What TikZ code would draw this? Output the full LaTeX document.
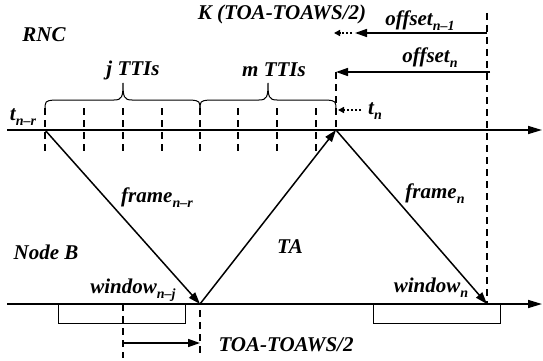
\documentclass[tikz,border=0pt]{standalone}
\usepackage{fontspec}
\setmainfont{Liberation Serif}
\usetikzlibrary{arrows.meta}
% subscript set smaller and lowered
\newcommand\sbs[1]{\raisebox{-5pt}{\fontsize{14}{14}\selectfont #1}}
% curly brace: left end, right end, tip
\newcommand\curly[3]{%
  \draw[brc] (#1,111) .. controls (#1,101) .. (#1+9,100) -- (#3-9,100)
    .. controls (#3-1,100) and (#3,97) .. (#3,83)
    .. controls (#3,97) and (#3+1,100) .. (#3+9,100) -- (#2-9,100)
    .. controls (#2,101) .. (#2,111);}
\begin{document}
\begin{tikzpicture}[x=1pt,y=-1pt,
  lab/.style={font=\fontsize{21}{23}\selectfont\bfseries\itshape, inner sep=0pt},
  axis/.style={line width=1.6pt, -{Triangle[length=14pt,width=8pt]}},
  sig/.style={line width=1.5pt, -{Triangle[length=12pt,width=8pt]}},
  tickmark/.style={line width=1.5pt, dash pattern=on 7pt off 5pt},
  dots/.style={line width=1.5pt, dash pattern=on 2pt off 2pt, -{Triangle[length=6pt,width=6pt]}},
  brc/.style={line width=1pt},
  winbox/.style={draw, line width=0.9pt, minimum width=127pt, minimum height=19pt, inner sep=0pt, anchor=north west}]
\useasboundingbox (0,0) rectangle (543,361);

% time axes
\coordinate (A0) at (7,130);
\coordinate (A1) at (542,130);
\coordinate (B0) at (7,304);
\coordinate (B1) at (542,304);
\coordinate (tnr) at (45,130);
\coordinate (tn) at (336,130);
\coordinate (wj) at (200,304);
\coordinate (wn) at (487,304);

% window boxes on the Node B axis
\node[winbox] (boxj) at (58,304) {};
\node[winbox] (boxn) at (373,304) {};

\draw[axis] (A0) -- (A1);
\draw[axis] (B0) -- (B1);

% TTI ticks
\foreach \x/\n in {45/a,84/b,123/c,162/d,200/e,238/f,277/g,316/h}{
  \coordinate (tt\n) at (\x,108);
  \coordinate (tb\n) at (\x,152);
  \draw[tickmark] (tt\n) -- (tb\n);
}

% braces
\curly{45}{200}{123}
\curly{200}{336}{268}

% vertical reference lines
\coordinate (tnTop) at (336,72);
\draw[tickmark] (tnTop) -- (tn);
\coordinate (refTop) at (487,13);
\draw[tickmark] (refTop) -- (wn);
\coordinate (ja) at (123,304);
\coordinate (jb) at (123,358);
\coordinate (ka) at (200,310);
\coordinate (kb) at (200,358);
\draw[tickmark] (ja) -- (jb);
\draw[tickmark] (ka) -- (kb);

% offset arrows
\coordinate (o1r) at (487,33);
\coordinate (o1m) at (355,33);
\coordinate (o1d) at (352,33);
\coordinate (o1l) at (334,33);
\draw[sig] (o1r) -- (o1m);
\draw[dots] (o1d) -- (o1l);
\coordinate (onr) at (490,72);
\draw[sig] (onr) -- (tnTop);
\coordinate (tnd) at (361,110);
\coordinate (tne) at (338,110);
\draw[dots] (tnd) -- (tne);

% TOA-TOAWS/2 arrow
\coordinate (ta1) at (123,343);
\coordinate (ta2) at (200,343);
\draw[sig] (ta1) -- (ta2);

% frames
\draw[sig] (tnr) -- (wj);
\draw[sig] (wj) -- (tn);
\draw[sig] (tn) -- (wn);

% labels
\node[lab] (rnc) at (44,35) {RNC};
\node[lab] (nodeb) at (46,252) {Node B};
\node[lab] (kk) at (282,14) {K (TOA-TOAWS/2)};
\node[lab] (off1) at (420,21) {offset\sbs{n–1}};
\node[lab] (offn) at (430,58) {offset\sbs{n}};
\node[lab] (jt) at (133,70) {j TTIs};
\node[lab] (mt) at (274,70) {m TTIs};
\node[lab] (ltnr) at (23,117) {t\sbs{n–r}};
\node[lab] (ltn) at (375,111) {t\sbs{n}};
\node[lab] (fr1) at (157,198) {frame\sbs{n–r}};
\node[lab] (ta) at (290,247) {TA};
\node[lab] (frn) at (435,194) {frame\sbs{n}};
\node[lab] (win1) at (133,290) {window\sbs{n–j}};
\node[lab] (winn) at (431,288) {window\sbs{n}};
\node[lab] (toa) at (286,345) {TOA-TOAWS/2};
\end{tikzpicture}
\end{document}
